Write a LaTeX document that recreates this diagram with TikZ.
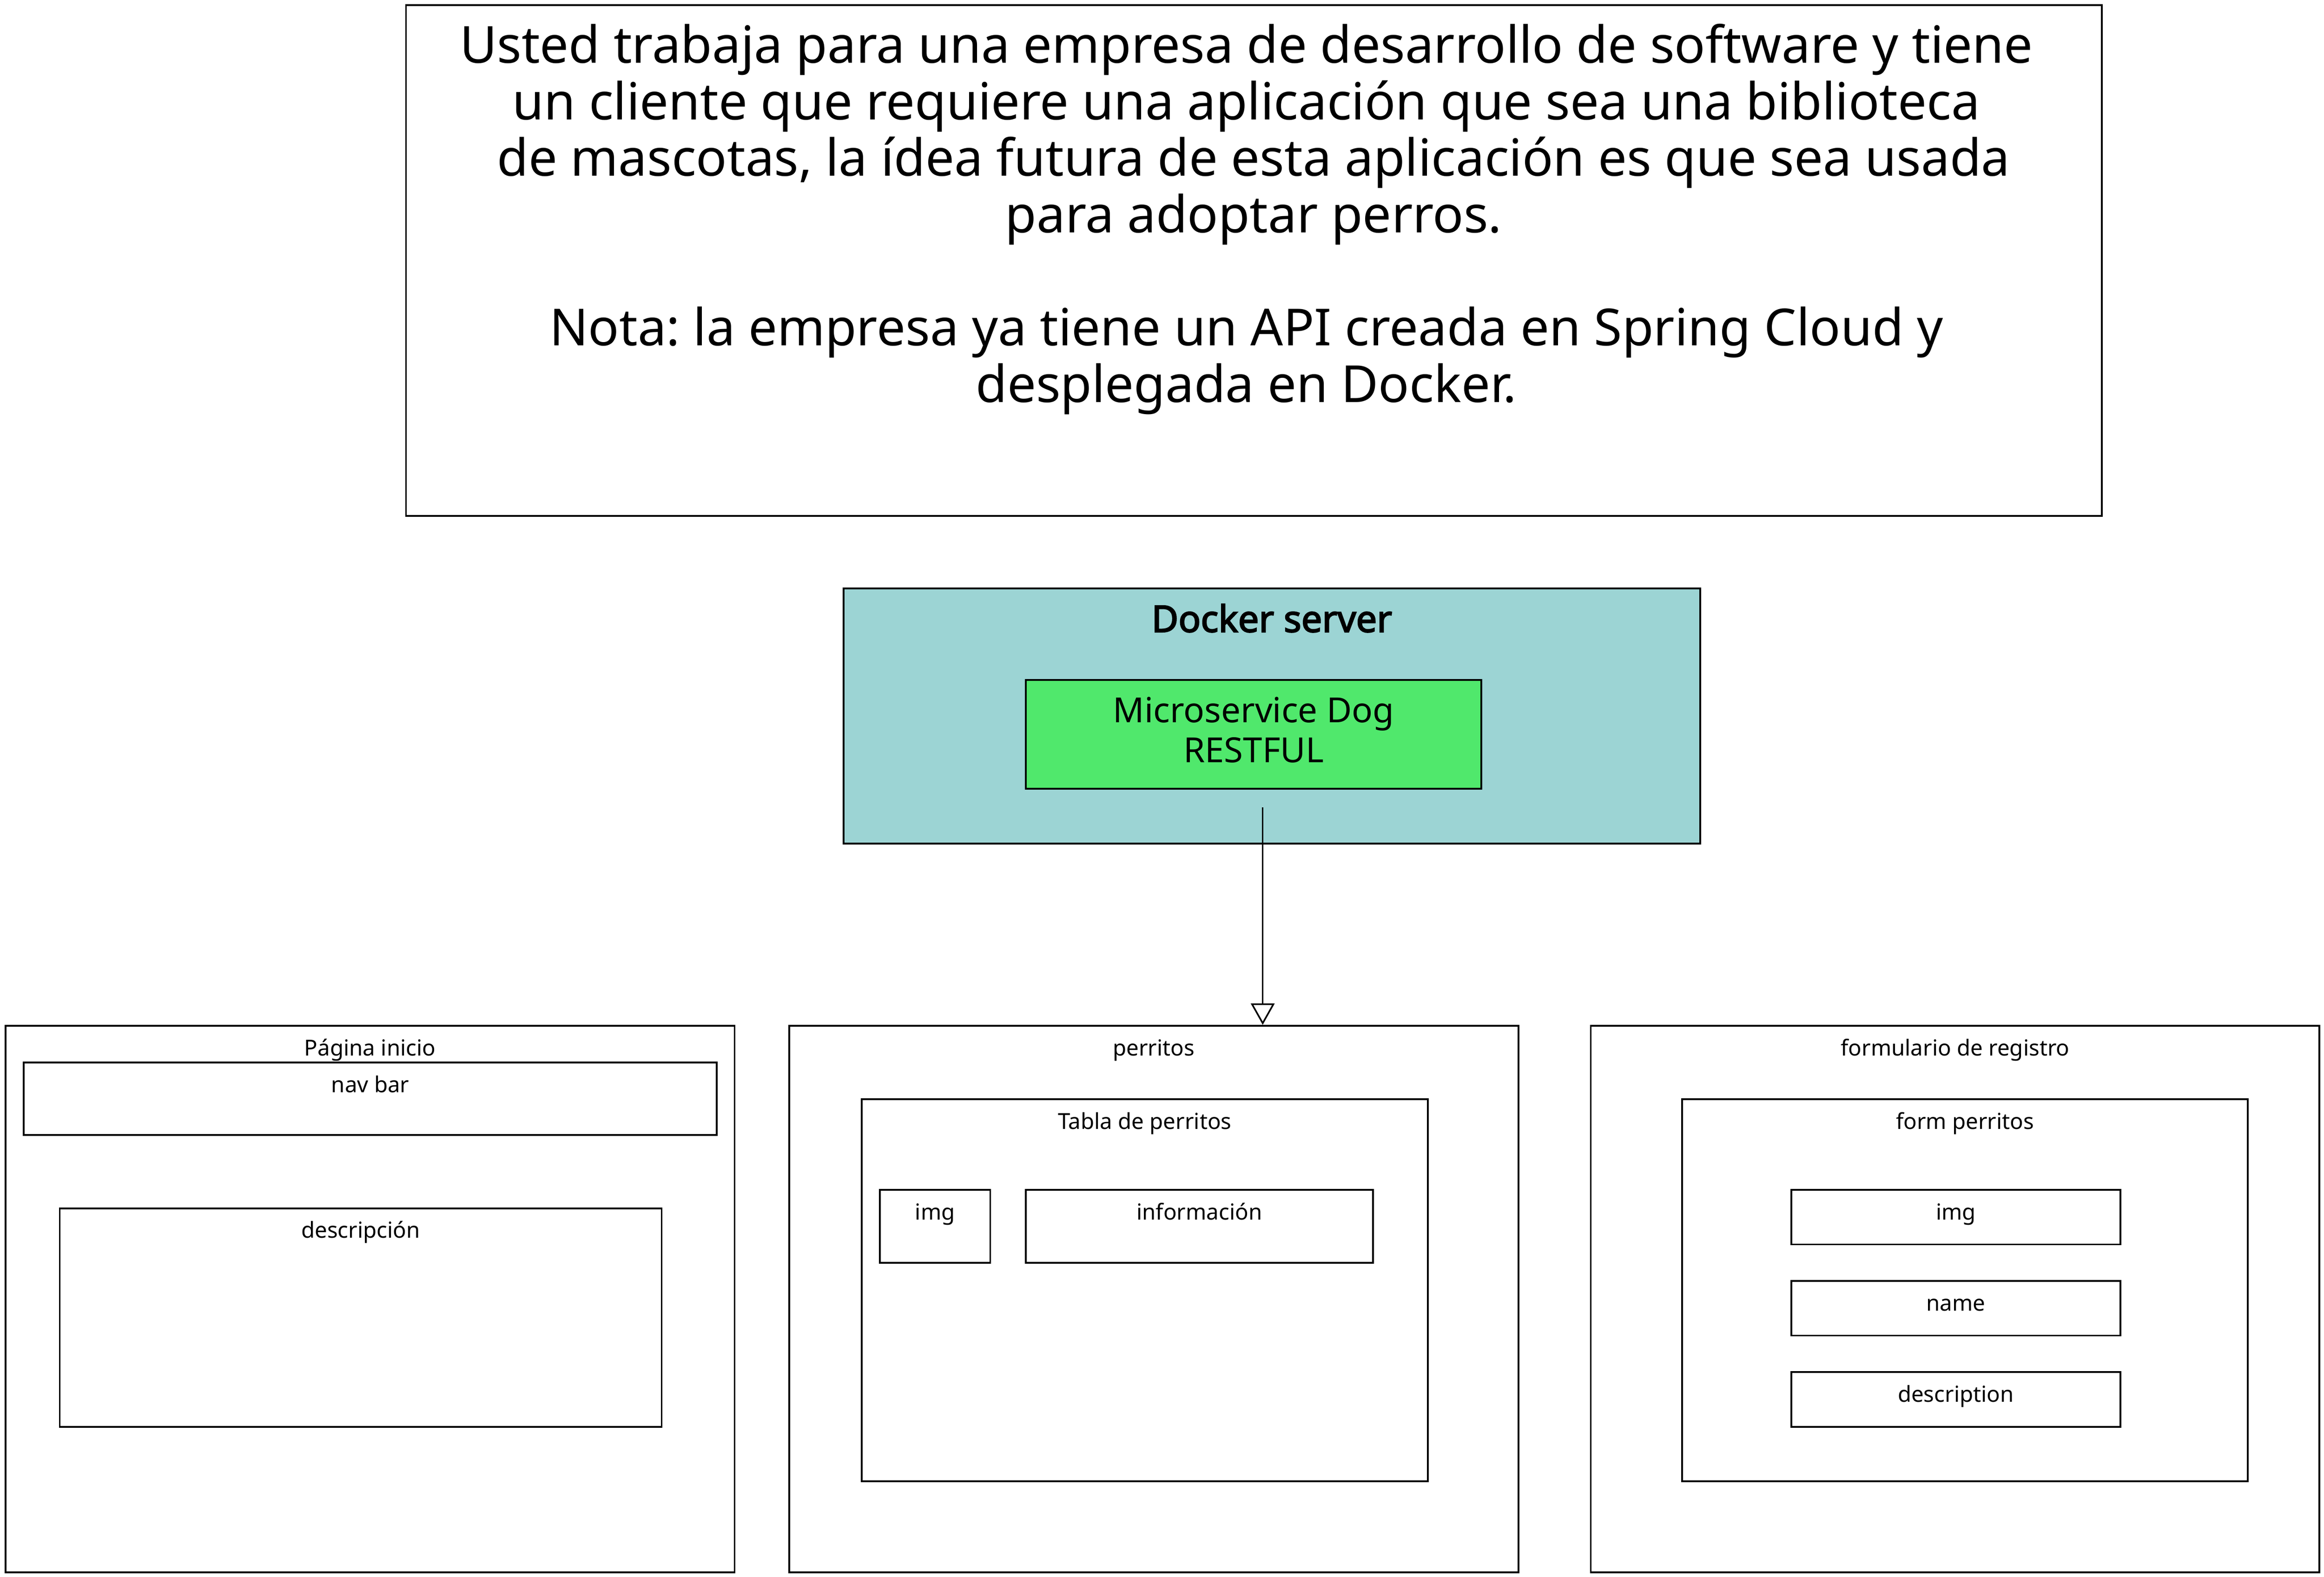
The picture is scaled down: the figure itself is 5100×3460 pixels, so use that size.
\documentclass[tikz,border=0pt]{standalone}
\usepackage{fontspec}
\setmainfont{Noto Sans}
\newfontfamily\dockerbold{Noto Sans}[FakeBold=3]
\frenchspacing
\usetikzlibrary{arrows.meta,fit}
\definecolor{dockerfill}{HTML}{9CD4D4}
\definecolor{msfill}{HTML}{50E86C}
\tikzset{
  box/.style={draw=black, line width=1.1pt, inner sep=0pt, rectangle},
  lbl/.style={inner sep=0pt, anchor=base, font=\fontsize{13.75pt}{17pt}\selectfont},
  conn/.style={draw=black, line width=1pt, -{Triangle[length=0.47cm, width=0.52cm, fill=white, line width=1pt]}}
}
\begin{document}
\begin{tikzpicture}[x=0.01cm, y=-0.01cm]
\useasboundingbox (0,0) rectangle (5100,3460);
% top statement box
\node[box, fit={(891,11) (4612,1132)}] (stmt) {};
\node[inner sep=0pt, anchor=base, align=center, font=\fontsize{31.9pt}{35.3pt}\selectfont] (stmttext) at (2751,883)
 {Usted trabaja para una empresa de desarrollo de software y tiene\kern0.32cm\\
  un cliente que requiere una aplicación que sea una biblioteca\kern0.32cm\\
  de mascotas, la ídea futura de esta aplicación es que sea usada\\
  para adoptar perros.\\[35.3pt]
  Nota: la empresa ya tiene un API creada en Spring Cloud y\kern0.32cm\\
  desplegada en Docker.\kern0.32cm};
% docker server
\node[box, fill=dockerfill, fit={(1851,1291) (3731,1851)}] (docker) {};
\node[inner sep=0pt, anchor=base, font=\dockerbold\fontsize{23pt}{27pt}\selectfont] (dockertitle) at (2791,1387) {Docker server};
\node[box, fill=msfill, fit={(2251,1492) (3251,1731)}] (ms) {};
\node[inner sep=0pt, anchor=base, align=center, font=\fontsize{21.6pt}{25pt}\selectfont] (mstext) at (2751,1673) {Microservice Dog\\RESTFUL};
% bottom panels
\node[box, fit={(12,2251) (1612,3451)}] (pagina) {};
\node[lbl] at ([yshift=-0.68cm]pagina.north) {Página inicio};
\node[box, fit={(52,2332) (1573,2491)}] (navbar) {};
\node[lbl] at ([yshift=-0.67cm]navbar.north) {nav bar};
\node[box, fit={(131,2652) (1452,3131)}] (desc) {};
\node[lbl] at ([yshift=-0.67cm]desc.north) {descripción};

\node[box, fit={(1732,2251) (3332,3451)}] (perritos) {};
\node[lbl] at ([yshift=-0.68cm]perritos.north) {perritos};
\node[box, fit={(1891,2412) (3133,3251)}] (tabla) {};
\node[lbl] at ([yshift=-0.68cm]tabla.north) {Tabla de perritos};
\node[box, fit={(1931,2611) (2173,2771)}] (timg) {};
\node[lbl] at ([yshift=-0.68cm]timg.north) {img};
\node[box, fit={(2251,2611) (3013,2771)}] (tinfo) {};
\node[lbl] at ([yshift=-0.68cm]tinfo.north) {información};

\node[box, fit={(3491,2251) (5090,3451)}] (formulario) {};
\node[lbl] at ([yshift=-0.68cm]formulario.north) {formulario de registro};
\node[box, fit={(3691,2412) (4933,3251)}] (form) {};
\node[lbl] at ([yshift=-0.68cm]form.north) {form perritos};
\node[box, fit={(3931,2611) (4653,2731)}] (fimg) {};
\node[lbl] at ([yshift=-0.68cm]fimg.north) {img};
\node[box, fit={(3931,2811) (4653,2931)}] (fname) {};
\node[lbl] at ([yshift=-0.68cm]fname.north) {name};
\node[box, fit={(3931,3011) (4653,3131)}] (fdesc) {};
\node[lbl] at ([yshift=-0.68cm]fdesc.north) {description};
% connector
\coordinate (src) at (2771,1772);
\draw[conn] (src) -- (src |- perritos.north);
\end{tikzpicture}
\end{document}
